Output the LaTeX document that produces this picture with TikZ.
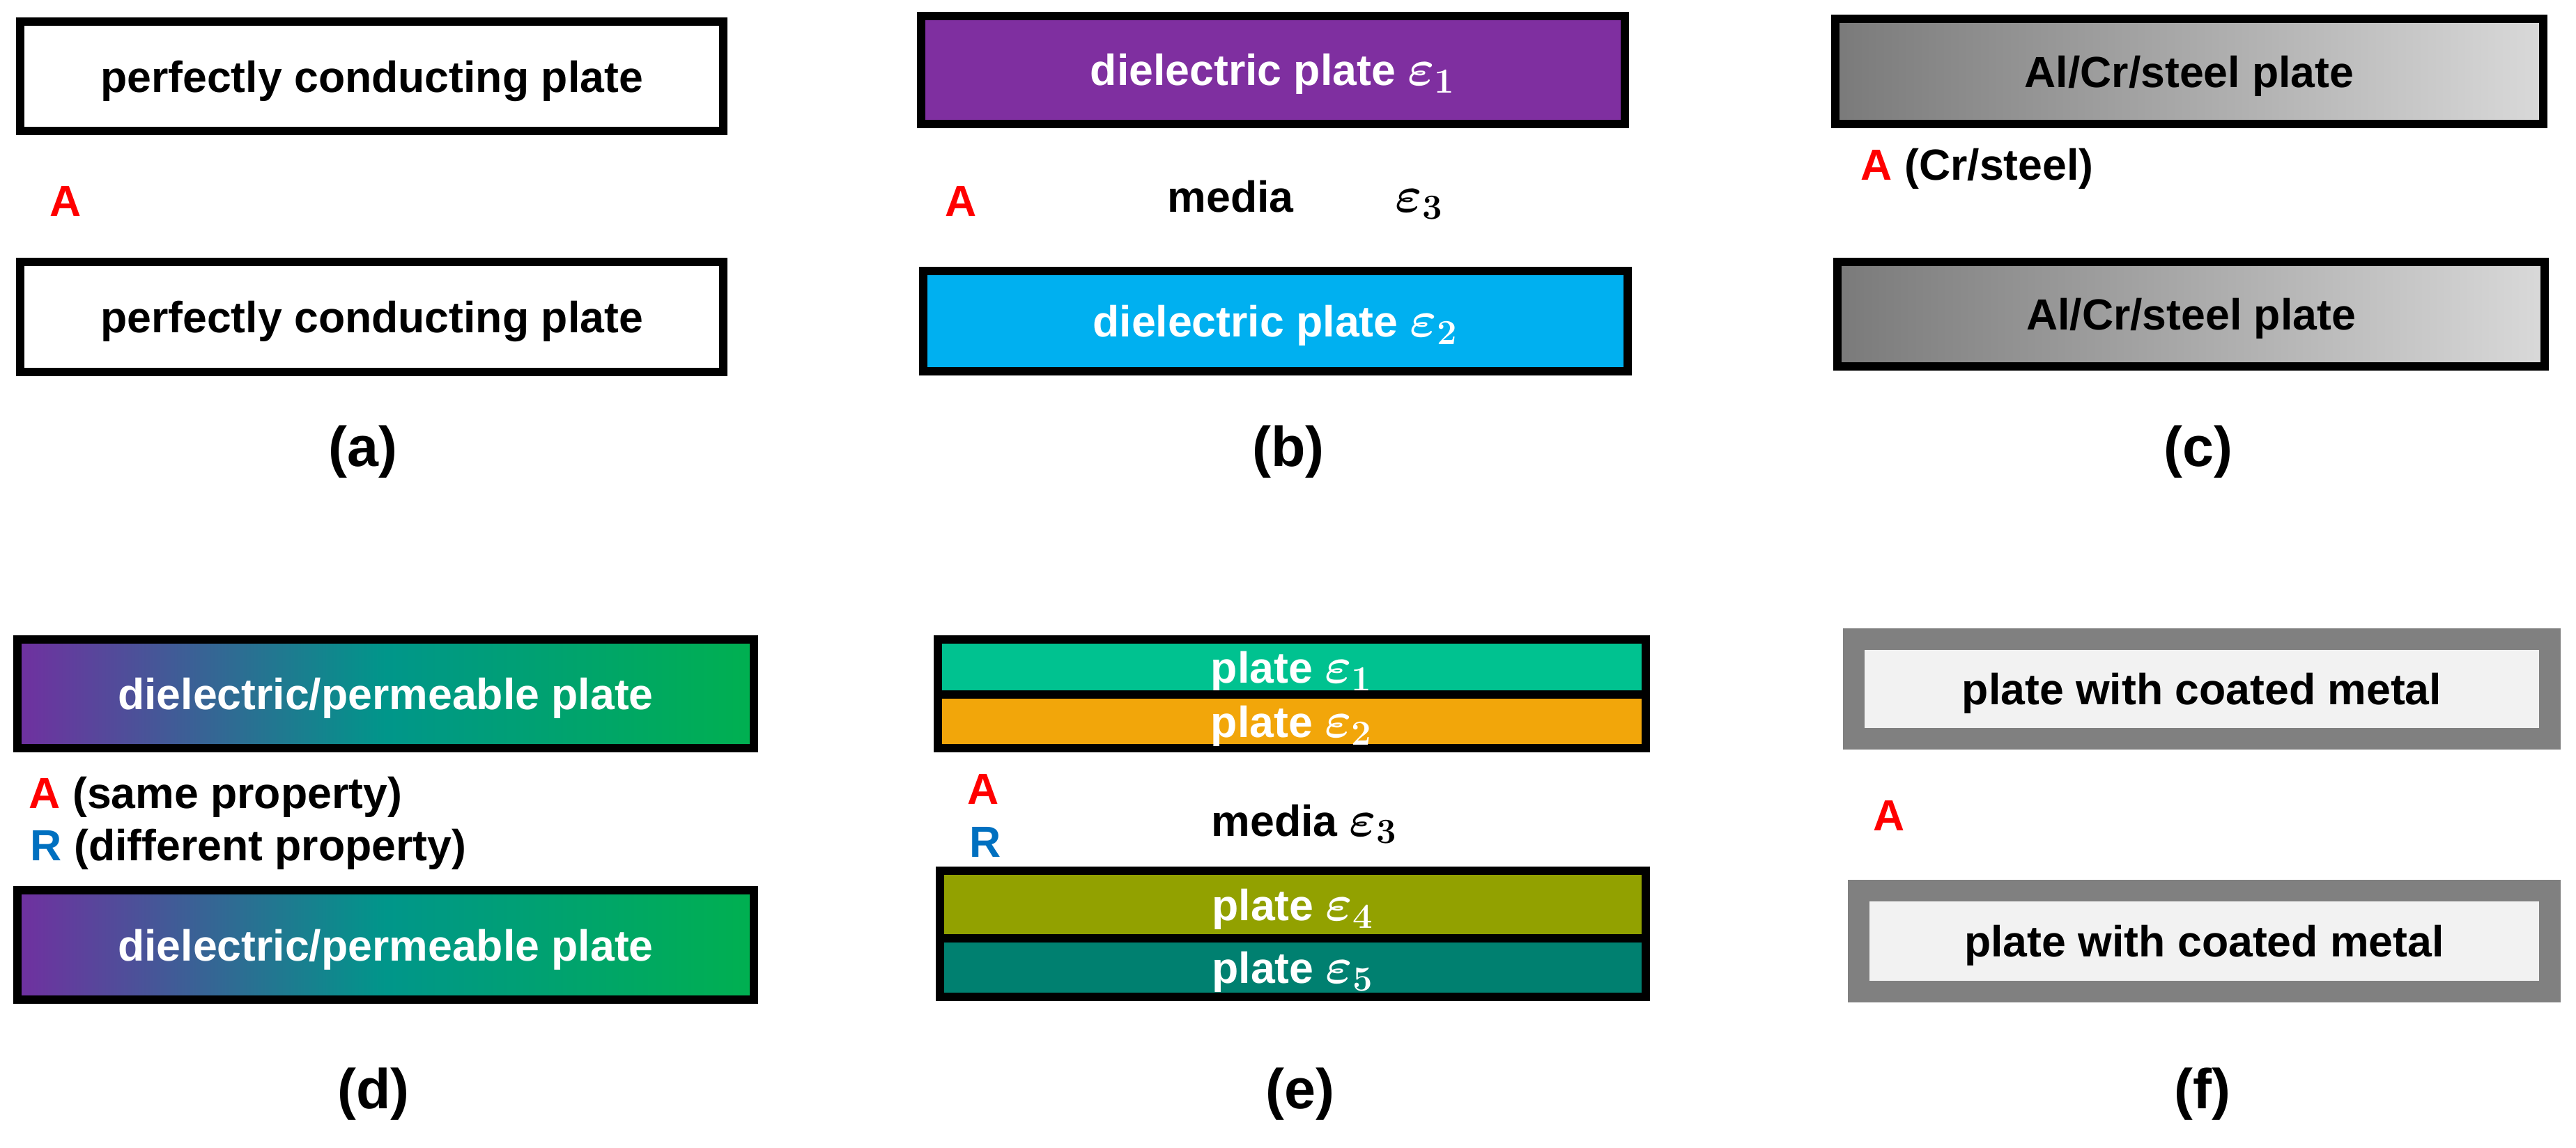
\documentclass[tikz,border=0pt]{standalone}
\usepackage{fontspec}
\setmainfont{Liberation Sans}
\usetikzlibrary{positioning}
\definecolor{Ared}{HTML}{FF0000}
\definecolor{Rblue}{HTML}{0070C0}
\definecolor{dieone}{HTML}{7F2FA0}
\definecolor{dietwo}{HTML}{00B0F0}
\definecolor{steeldark}{HTML}{7A7A7A}
\definecolor{steellight}{HTML}{D9D9D9}
\definecolor{permpurple}{HTML}{7030A0}
\definecolor{permteal}{HTML}{00968A}
\definecolor{permgreen}{HTML}{00B050}
\definecolor{epsone}{HTML}{00C290}
\definecolor{epstwo}{HTML}{F2A60A}
\definecolor{epsfour}{HTML}{92A100}
\definecolor{epsfive}{HTML}{008070}
\definecolor{coatgray}{HTML}{808080}
\definecolor{coatfill}{HTML}{F2F2F2}
\newcommand{\perm}[1]{{\fontsize{20.74}{24}\selectfont\boldmath$\varepsilon_{#1}$}}
\begin{document}
\begin{tikzpicture}[x=1cm, y=-1cm, inner sep=0pt, font=\fontsize{17.8}{21}\selectfont\bfseries,
	plate/.style 2 args={draw, line width=1.2mm, outer sep=0pt, text depth=0pt, minimum width=#1cm, minimum height=#2cm},
	coated/.style 2 args={draw=coatgray, fill=coatfill, line width=3.1mm, outer sep=0pt, text depth=0pt, minimum width=#1cm, minimum height=#2cm},
	caption/.style={font=\fontsize{23}{27}\selectfont\bfseries, anchor=base}]
	\useasboundingbox (0,0) rectangle (36.97,16.47);
	% (a)
	\node (pa1) at (5.335,1.095) [plate={10.09}{1.57}] {perfectly conducting plate};
	\node (pa2) at (5.335,4.55) [plate={10.09}{1.58}] {perfectly conducting plate};
	\node (aA) at (0.71,3.10) [anchor=base west, text=Ared] {A};
	\node (capa) at (5.21,6.69) [caption] {(a)};
	% (b)
	\node (pb1) at (18.27,1.0025) [plate={10.10}{1.555}, fill=dieone, text=white] {dielectric plate \perm{1}};
	\node (pb2) at (18.305,4.61) [plate={10.11}{1.44}, fill=dietwo, text=white] {dielectric plate \perm{2}};
	\node (bA) at (13.56,3.10) [anchor=base west, text=Ared] {A};
	\node (bmedia) at (16.75,3.04) [anchor=base west] {media};
	\node (beps) [base right=1.45cm of bmedia] {\perm{3}};
	\node (capb) at (18.49,6.69) [caption] {(b)};
	% (c)
	\node (pc1) at (31.42,1.025) [plate={10.16}{1.51}, left color=steeldark, right color=steellight] {Al/Cr/steel plate};
	\node (pc2) at (31.445,4.51) [plate={10.15}{1.50}, left color=steeldark, right color=steellight] {Al/Cr/steel plate};
	\node (cA) at (26.70,2.58) [anchor=base west] {\textcolor{Ared}{A} (Cr/steel)};
	\node (capc) at (31.55,6.69) [caption] {(c)};
	% (d)
	\node (pd1) at (5.535,9.96) [plate={10.57}{1.56}, left color=permpurple, right color=permgreen, middle color=permteal, text=white] {dielectric/permeable plate};
	\node (pd2) at (5.535,13.565) [plate={10.57}{1.57}, left color=permpurple, right color=permgreen, middle color=permteal, text=white] {dielectric/permeable plate};
	\node (dA) at (0.41,11.60) [anchor=base west] {\textcolor{Ared}{A} (same property)};
	\node (dR) at (0.43,12.35) [anchor=base west] {\textcolor{Rblue}{R} (different property)};
	\node (capd) at (5.36,15.91) [caption] {(d)};
	% (e)
	\node (pe1) at (18.54,9.575) [plate={10.16}{0.79}, fill=epsone, text=white] {plate \perm{1}};
	\node (pe2) [plate={10.16}{0.77}, fill=epstwo, text=white, below=0pt of pe1] {plate \perm{2}};
	\node (pe4) at (18.555,12.985) [plate={10.13}{0.97}, fill=epsfour, text=white] {plate \perm{4}};
	\node (pe5) [plate={10.13}{0.84}, fill=epsfive, text=white, below=0pt of pe4] {plate \perm{5}};
	\node (eA) at (13.88,11.54) [anchor=base west, text=Ared] {A};
	\node (eR) at (13.91,12.30) [anchor=base west, text=Rblue] {R};
	\node (emedia) at (17.38,12.00) [anchor=base west] {media \perm{3}};
	\node (cape) at (18.66,15.91) [caption] {(e)};
	% (f)
	\node (pf1) at (31.60,9.89) [coated={9.99}{1.43}] {plate with coated metal};
	\node (pf2) at (31.635,13.51) [coated={9.92}{1.45}] {plate with coated metal};
	\node (fA) at (26.88,11.92) [anchor=base west, text=Ared] {A};
	\node (capf) at (31.61,15.91) [caption] {(f)};
\end{tikzpicture}
\end{document}
